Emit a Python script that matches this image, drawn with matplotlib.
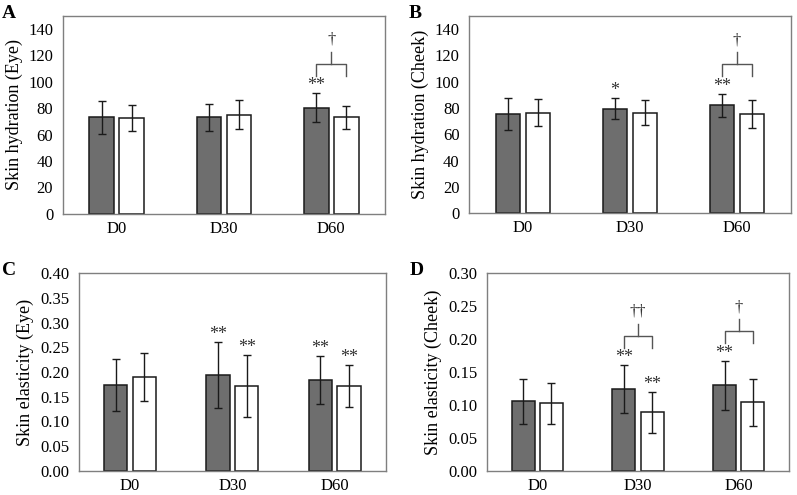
import matplotlib
matplotlib.use("Agg")
from matplotlib import pyplot as plt
import numpy as np

plt.rcParams['font.family'] = ['Liberation Serif', 'DejaVu Serif']

days = ["D0", "D30", "D60"]

# panel A: skin hydration (eye)
hyd_eye_test = [73, 73, 80.5]
hyd_eye_test_sd = [12.5, 10.5, 10.7]
hyd_eye_ctrl = [72.5, 75, 73]
hyd_eye_ctrl_sd = [10, 11, 8.7]

# panel B: skin hydration (cheek)
hyd_cheek_test = [75.5, 79.5, 82]
hyd_cheek_test_sd = [12, 8, 9]
hyd_cheek_ctrl = [76.5, 76.5, 75.5]
hyd_cheek_ctrl_sd = [10.5, 9.7, 10.5]

# panel C: skin elasticity (eye)
ela_eye_test = [0.174, 0.194, 0.184]
ela_eye_test_sd = [0.053, 0.067, 0.048]
ela_eye_ctrl = [0.190, 0.172, 0.172]
ela_eye_ctrl_sd = [0.048, 0.063, 0.042]

# panel D: skin elasticity (cheek)
ela_cheek_test = [0.106, 0.124, 0.130]
ela_cheek_test_sd = [0.034, 0.036, 0.037]
ela_cheek_ctrl = [0.103, 0.089, 0.104]
ela_cheek_ctrl_sd = [0.031, 0.031, 0.035]

# significance marks: (group, series 0=test 1=control, text)
stars_a = [(2, 0, "**")]
stars_b = [(1, 0, "*"), (2, 0, "**")]
stars_c = [(1, 0, "**"), (1, 1, "**"), (2, 0, "**"), (2, 1, "**")]
stars_d = [(1, 0, "**"), (1, 1, "**"), (2, 0, "**")]
# between-group marks: (group, text)
daggers_a = [(2, "\u2020")]
daggers_b = [(2, "\u2020")]
daggers_c = []
daggers_d = [(1, "\u2020\u2020"), (2, "\u2020")]

panels = [
    ("A", "Skin hydration (Eye)", hyd_eye_test, hyd_eye_test_sd, hyd_eye_ctrl, hyd_eye_ctrl_sd,
     150, np.arange(0, 141, 20), "%d", stars_a, daggers_a, [0.079, 0.568, 0.404, 0.400]),
    ("B", "Skin hydration (Cheek)", hyd_cheek_test, hyd_cheek_test_sd, hyd_cheek_ctrl, hyd_cheek_ctrl_sd,
     150, np.arange(0, 141, 20), "%d", stars_b, daggers_b, [0.589, 0.569, 0.403, 0.399]),
    ("C", "Skin elasticity (Eye)", ela_eye_test, ela_eye_test_sd, ela_eye_ctrl, ela_eye_ctrl_sd,
     0.40, np.arange(0, 0.401, 0.05), "%.2f", stars_c, daggers_c, [0.099, 0.049, 0.385, 0.399]),
    ("D", "Skin elasticity (Cheek)", ela_cheek_test, ela_cheek_test_sd, ela_cheek_ctrl, ela_cheek_ctrl_sd,
     0.30, np.arange(0, 0.301, 0.05), "%.2f", stars_d, daggers_d, [0.611, 0.048, 0.379, 0.401]),
]

fig = plt.figure(figsize=(7.97, 4.95), dpi=100)
w = 0.23
off = 0.14
x = np.arange(len(days))

for letter, ylab, t, tsd, c, csd, ymax, ticks, fmt, stars, daggers, rect in panels:
    ax = fig.add_axes(rect)
    ekw = dict(elinewidth=1, capthick=1, ecolor="#1a1a1a")
    ax.bar(x - off, t, w, yerr=tsd, color="#6e6e6e", edgecolor="#1a1a1a", linewidth=1.1,
           capsize=3, error_kw=ekw)
    ax.bar(x + off, c, w, yerr=csd, color="white", edgecolor="#1a1a1a", linewidth=1.1,
           capsize=3, error_kw=ekw)
    ax.set_xlim(-0.5, 2.5)
    ax.set_ylim(0, ymax)
    ax.set_yticks(ticks)
    ax.set_yticklabels([fmt % v for v in ticks])
    ax.set_xticks(x)
    ax.set_xticklabels(days)
    ax.tick_params(axis="y", length=0, labelsize=12, pad=7)
    ax.tick_params(axis="x", length=0, labelsize=12, pad=5)
    ax.set_ylabel(ylab, fontsize=13, labelpad=4)
    for s in ax.spines.values():
        s.set_color("#7f7f7f")
        s.set_linewidth(1)

    vals = [t, c]
    sds = [tsd, csd]
    for g, k, txt in stars:
        top = vals[k][g] + sds[k][g]
        ax.text(g + (off if k else -off), top - 0.005 * ymax, txt, ha="center", va="bottom",
                fontsize=13, color="#333333")
    for g, txt in daggers:
        top = max(t[g] + tsd[g], c[g] + csd[g])
        leg = top + 0.09 * ymax
        hor = leg + 0.06 * ymax
        stem = hor + 0.06 * ymax
        ax.plot([g - off, g - off, g + off, g + off], [leg, hor, hor, leg], color="#555555", lw=1)
        ax.plot([g, g], [hor, stem], color="#555555", lw=1)
        ax.text(g, stem + 0.02 * ymax, txt, ha="center", va="bottom", fontsize=12, color="#333333")

    fig.text(rect[0] - 0.068 if letter in "AB" else rect[0] - 0.088, rect[1] + rect[3] + 0.005,
             letter, fontsize=14, fontweight="bold", ha="center", va="center")

fig.savefig("out.png", dpi=100)
